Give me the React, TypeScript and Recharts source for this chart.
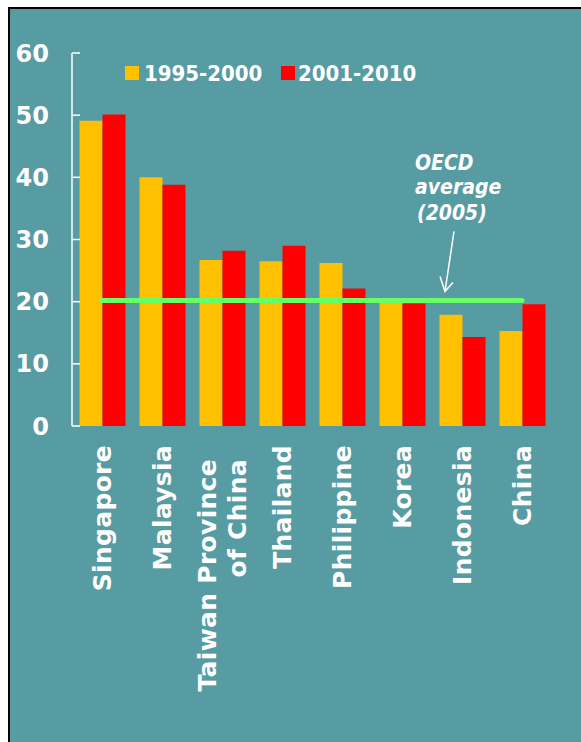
import React from 'react';
import { ComposedChart, Bar, Line, XAxis, YAxis, ReferenceDot } from 'recharts';

const countries = [
  'Singapore',
  'Malaysia',
  'Taiwan Province\nof China',
  'Thailand',
  'Philippine',
  'Korea',
  'Indonesia',
  'China',
];
const share1995to2000 = [49.1, 40.0, 26.7, 26.5, 26.2, 20.0, 17.9, 15.3];
const share2001to2010 = [50.1, 38.8, 28.2, 29.0, 22.1, 19.7, 14.3, 19.6];
const oecdAverage2005 = 20.2;
const yTicks = [0, 10, 20, 30, 40, 50, 60];
const seriesNames = ['1995-2000', '2001-2010'];
const seriesColors = ['#ffc000', '#ff0000'];

const BG = '#579ba3';
const WHITE = '#ffffff';
const BOLD = "'DejaVu Sans', Verdana, sans-serif";
const NARROW = "'DejaVu Sans Condensed', 'DejaVu Sans', sans-serif";

const data = countries.map((name, i) => ({
  name,
  early: share1995to2000[i],
  late: share2001to2010[i],
  oecd: oecdAverage2005,
}));

// boundaries between categories, used for the small upward ticks on the x axis
const edgeTicks = [...countries.map((_, i) => i), countries.length];

function CountryTick(props: any) {
  const { x, y, payload } = props;
  const lines = String(payload.value).split('\n');
  const top = lines.length > 1 ? y + 33 : y + 19;
  return (
    <g transform={`translate(${x},${top}) rotate(-90)`}>
      {lines.map((line, i) => (
        <text
          key={i}
          x={0}
          y={9 + (i - (lines.length - 1) / 2) * 30}
          textAnchor="end"
          fill={WHITE}
          fontFamily={BOLD}
          fontWeight="bold"
          fontSize={25}
          letterSpacing={0.3}
        >
          {line}
        </text>
      ))}
    </g>
  );
}

function OecdNote(props: any) {
  const { cx, cy } = props;
  const tipX = cx - 17;
  const tipY = cy - 9;
  const textStyle = {
    fill: WHITE,
    fontFamily: NARROW,
    fontStretch: 'condensed',
    fontWeight: 'bold' as const,
    fontStyle: 'italic',
    fontSize: 21,
  };
  return (
    <g>
      <text x={cx - 47} y={cy - 130} style={textStyle}>OECD</text>
      <text x={cx - 47} y={cy - 106} style={textStyle}>average</text>
      <text x={cx - 45} y={cy - 80} style={textStyle}>(2005)</text>
      <line x1={cx - 8} y1={cy - 69} x2={tipX} y2={tipY} stroke={WHITE} strokeWidth={1.5} />
      <polyline
        points={`${tipX - 5},${tipY - 15} ${tipX},${tipY} ${tipX + 8},${tipY - 9}`}
        fill="none"
        stroke={WHITE}
        strokeWidth={1.5}
      />
    </g>
  );
}

function LegendRow() {
  const items = [
    { x: 115, textX: 134 },
    { x: 271, textX: 288 },
  ];
  return (
    <svg width={571} height={100} style={{ position: 'absolute', left: 0, top: 0 }}>
      {seriesNames.map((name, i) => (
        <g key={name}>
          <rect x={items[i].x} y={57} width={14} height={14} fill={seriesColors[i]} />
          <text
            x={items[i].textX}
            y={72}
            fill={WHITE}
            fontFamily={NARROW}
            style={{ fontStretch: 'condensed' }}
            fontWeight="bold"
            fontSize={22}
          >
            {name}
          </text>
        </g>
      ))}
    </svg>
  );
}

export default function App() {
  return (
    <div
      style={{
        position: 'fixed',
        left: 8,
        top: 7,
        width: 571,
        height: 733,
        overflow: 'hidden',
        background: BG,
        borderTop: '2px solid #000',
        borderLeft: '2px solid #000',
      }}
    >
      <ComposedChart
        width={571}
        height={733}
        data={data}
        margin={{ top: 44, right: 29, left: 0, bottom: 0 }}
        barCategoryGap="12.5%"
        barGap={0}
      >
        <XAxis
          xAxisId="edges"
          type="number"
          domain={[0, countries.length]}
          ticks={edgeTicks}
          allowDataOverflow
          mirror
          height={0}
          tickSize={10}
          tick={false}
          stroke={WHITE}
          strokeWidth={1.5}
        />
        <XAxis
          xAxisId="cat"
          dataKey="name"
          interval={0}
          height={316}
          axisLine={false}
          tickLine={false}
          tickSize={0}
          tickMargin={0}
          tick={<CountryTick />}
        />
        <YAxis
          domain={[0, 60]}
          ticks={yTicks}
          width={62}
          tickSize={-8}
          tickMargin={31}
          stroke={WHITE}
          strokeWidth={1.5}
          tick={{ fill: WHITE, fontFamily: BOLD, fontWeight: 'bold', fontSize: 24 }}
        />
        <Bar xAxisId="cat" dataKey="early" name={seriesNames[0]} fill={seriesColors[0]} isAnimationActive={false} />
        <Bar xAxisId="cat" dataKey="late" name={seriesNames[1]} fill={seriesColors[1]} isAnimationActive={false} />
        <Line
          xAxisId="cat"
          dataKey="oecd"
          stroke="#66ff66"
          strokeWidth={5}
          strokeLinecap="round"
          dot={false}
          activeDot={false}
          isAnimationActive={false}
        />
        <ReferenceDot xAxisId="cat" x="Indonesia" y={oecdAverage2005} shape={<OecdNote />} />
      </ComposedChart>
      <LegendRow />
    </div>
  );
}
